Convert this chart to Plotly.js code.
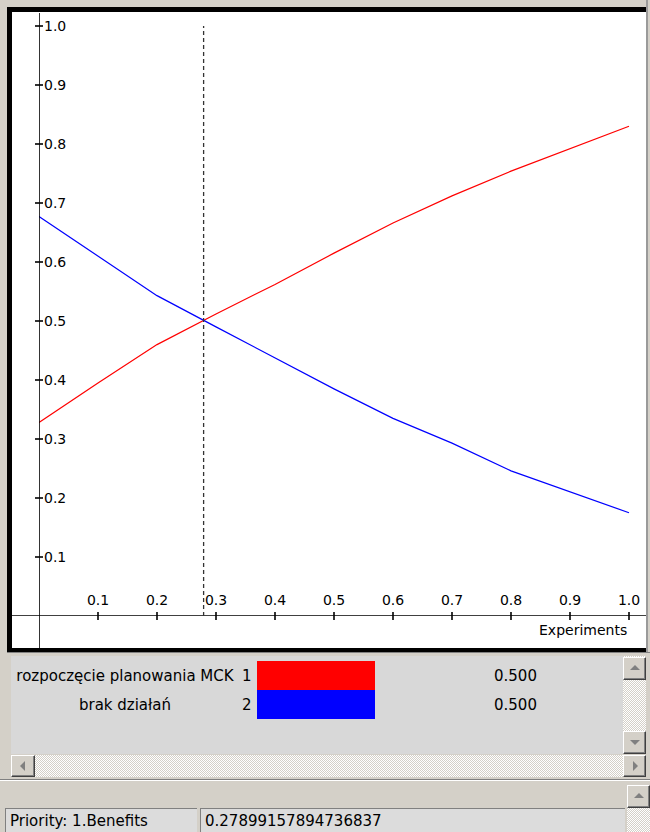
<!DOCTYPE html>
<html>
<head>
<meta charset="utf-8">
<script src="https://cdn.plot.ly/plotly-3.0.1.min.js"></script>
<style>
  html, body { margin:0; padding:0; width:650px; height:832px; overflow:hidden; background:#d4d0c8; font-family:"DejaVu Sans", sans-serif; }
  .abs { position:absolute; box-sizing:border-box; }
  #frame { left:7px; top:7px; width:639px; height:645px; background:#000; }
  #plot { left:12px; top:12px; width:634px; height:636px; background:#fff; overflow:hidden; }
  #rightedge { left:646px; top:0px; width:4px; height:652px; background:#d4d0c8; border-left:2px solid #9a9a9a; z-index:20; }
  .stipple { background: repeating-conic-gradient(#ffffff 0 25%, #d4d0c8 0 50%) 0 0/2px 2px; }
  .btn { background:#d4d0c8; border-top:1px solid #ffffff; border-left:1px solid #ffffff; border-right:1px solid #404040; border-bottom:1px solid #404040; box-shadow: inset -1px -1px 0 #808080; }
  .arr { position:absolute; width:0; height:0; }
  .row { position:absolute; font-size:15px; color:#000; white-space:nowrap; }
  .field { background:#dcdcdc; border-top:1px solid #808080; border-left:1px solid #808080; font-size:15px; color:#000; white-space:nowrap; padding-left:4px; line-height:24px; }
</style>
</head>
<body>
<div id="frame" class="abs"></div>
<div id="plot" class="abs"></div>
<div id="rightedge" class="abs"></div>

<!-- legend panel -->
<div class="abs" style="left:7px;top:652px;width:643px;height:128px;background:#d4d0c8;border-top:1px solid #808080;"></div>
<div id="list" class="abs" style="left:11px;top:656px;width:612px;height:98px;background:#d8d8d8;"></div>
<div class="abs stipple" style="left:623px;top:656px;width:23px;height:98px;"></div>
<div class="abs btn" style="left:623px;top:657px;width:23px;height:23px;"><div class="arr" style="left:6px;top:7px;border-left:5px solid transparent;border-right:5px solid transparent;border-bottom:5px solid #808080;"></div></div>
<div class="abs btn" style="left:623px;top:731px;width:23px;height:23px;"><div class="arr" style="left:6px;top:8px;border-left:5px solid transparent;border-right:5px solid transparent;border-top:5px solid #808080;"></div></div>
<div class="abs stipple" style="left:11px;top:755px;width:612px;height:22px;"></div>
<div class="abs btn" style="left:11px;top:755px;width:24px;height:22px;"><div class="arr" style="left:8px;top:5px;border-top:5px solid transparent;border-bottom:5px solid transparent;border-right:5px solid #808080;"></div></div>
<div class="abs btn" style="left:623px;top:755px;width:23px;height:22px;"><div class="arr" style="left:9px;top:5px;border-top:5px solid transparent;border-bottom:5px solid transparent;border-left:5px solid #808080;"></div></div>
<div class="abs" style="left:0px;top:779px;width:650px;height:2px;border-top:1px solid #808080;border-bottom:1px solid #ffffff;"></div>

<!-- status area -->
<div class="abs stipple" style="left:627px;top:808px;width:23px;height:24px;"></div>
<div class="abs btn" style="left:627px;top:785px;width:23px;height:23px;"><div class="arr" style="left:6px;top:7px;border-left:5px solid transparent;border-right:5px solid transparent;border-bottom:5px solid #808080;"></div></div>
<div id="field1" class="abs field" style="left:5px;top:808px;width:192px;height:26px;"></div>
<div id="field2" class="abs field" style="left:200px;top:808px;width:425px;height:26px;"></div>

<script>
// ---- data ----
const xSteps      = [0.0, 0.1, 0.2, 0.3, 0.4, 0.5, 0.6, 0.7, 0.8, 0.9, 1.0];
const redValues   = [0.328, 0.395, 0.460, 0.512, 0.562, 0.615, 0.666, 0.712, 0.754, 0.792, 0.830];
const blueValues  = [0.677, 0.610, 0.543, 0.490, 0.437, 0.385, 0.335, 0.293, 0.246, 0.210, 0.175];
const seriesNames  = ["rozpoczęcie planowania MCK", "brak działań"];
const seriesColors = ["#ff0000", "#0000ff"];
const currentValues = [0.500, 0.500];
const currentPriority = 0.27899157894736837;
const priorityLabel = "Priority: 1.Benefits";
const xTickVals = [0.1, 0.2, 0.3, 0.4, 0.5, 0.6, 0.7, 0.8, 0.9, 1.0];
const xTickText = ["0.1", "0.2", "0.3", "0.4", "0.5", "0.6", "0.7", "0.8", "0.9", "1.0"];
const yTickVals = [0.1, 0.2, 0.3, 0.4, 0.5, 0.6, 0.7, 0.8, 0.9, 1.0];
const yTickText = ["0.1", "0.2", "0.3", "0.4", "0.5", "0.6", "0.7", "0.8", "0.9", "1.0"];
const xAxisName = "Experiments";

// ---- plot geometry (pixels) ----
const W = 634, H = 636;
const UNIT = 590;            // pixels per axis unit
const ML = 27, MB = 32;      // x=0 / y=0 position
const MR = 1, MT = 1;
const PW = W - ML - MR, PH = H - MT - MB;
const xMax = PW / UNIT, yMax = PH / UNIT;

const traces = [
  { x: xSteps, y: redValues, mode: "lines", name: seriesNames[0], line: { color: seriesColors[0], width: 1.2 }, hoverinfo: "skip" },
  { x: xSteps, y: blueValues, mode: "lines", name: seriesNames[1], line: { color: seriesColors[1], width: 1.2 }, hoverinfo: "skip" }
];

const shapes = [];
const axLine = { color: "#000", width: 1.6 };
// axis lines (x=0 and y=0 coincide with paper 0)
shapes.push({ type: "line", xref: "paper", yref: "y", x0: -ML / PW, x1: 1 + MR / PW, y0: 0, y1: 0, line: axLine });
shapes.push({ type: "line", xref: "x", yref: "paper", x0: 0, x1: 0, y0: -MB / PH, y1: 1, line: axLine });
// crossing tick marks (4 px each side of the axis)
yTickVals.forEach(v => shapes.push({ type: "line", xref: "paper", yref: "y", x0: -4 / PW, x1: 4 / PW, y0: v, y1: v, line: axLine }));
xTickVals.forEach(v => shapes.push({ type: "line", xref: "x", yref: "paper", y0: -4 / PH, y1: 4 / PH, x0: v, x1: v, line: axLine }));
// current priority dashed line
shapes.push({ type: "line", xref: "x", yref: "y", x0: currentPriority, x1: currentPriority, y0: 0, y1: 1, line: { color: "#333", width: 1.3, dash: "4px,3px" } });

const tf = { family: "DejaVu Sans, sans-serif", size: 14, color: "#000" };
const layout = {
  width: W, height: H,
  margin: { l: ML, r: MR, t: MT, b: MB, pad: 0 },
  paper_bgcolor: "#ffffff", plot_bgcolor: "#ffffff",
  showlegend: false,
  font: tf,
  xaxis: {
    range: [0, xMax], showgrid: false, zeroline: false, showline: false, ticks: "",
    tickvals: xTickVals, ticktext: xTickText, ticklabelposition: "inside", ticklabelstandoff: 5,
    tickfont: tf, fixedrange: true
  },
  yaxis: {
    range: [0, yMax], showgrid: false, zeroline: false, showline: false, ticks: "",
    tickvals: yTickVals, ticktext: yTickText, ticklabelposition: "inside", ticklabelstandoff: 2,
    tickfont: tf, fixedrange: true
  },
  shapes: shapes,
  annotations: [{
    text: xAxisName, xref: "x", yref: "paper", x: 1, y: -14 / PH, xanchor: "right", yanchor: "middle",
    showarrow: false, font: tf
  }]
};

Plotly.newPlot("plot", traces, layout, { displayModeBar: false, staticPlot: true });

// ---- legend rows ----
const list = document.getElementById("list");
seriesNames.forEach((name, i) => {
  const top = 5 + i * 29;
  const lab = document.createElement("div");
  lab.className = "row";
  lab.style.cssText = "left:0px;width:228px;text-align:center;top:" + (top + 6) + "px;";
  lab.textContent = name;
  list.appendChild(lab);
  const num = document.createElement("div");
  num.className = "row";
  num.style.cssText = "left:231px;top:" + (top + 6) + "px;";
  num.textContent = String(i + 1);
  list.appendChild(num);
  const sw = document.createElement("div");
  sw.className = "abs";
  sw.style.cssText = "left:246px;top:" + top + "px;width:118px;height:29px;background:" + seriesColors[i] + ";";
  list.appendChild(sw);
  const val = document.createElement("div");
  val.className = "row";
  val.style.cssText = "left:483px;top:" + (top + 6) + "px;";
  val.textContent = currentValues[i].toFixed(3);
  list.appendChild(val);
});
document.getElementById("field1").textContent = priorityLabel;
document.getElementById("field2").textContent = String(currentPriority);
</script>
</body>
</html>
